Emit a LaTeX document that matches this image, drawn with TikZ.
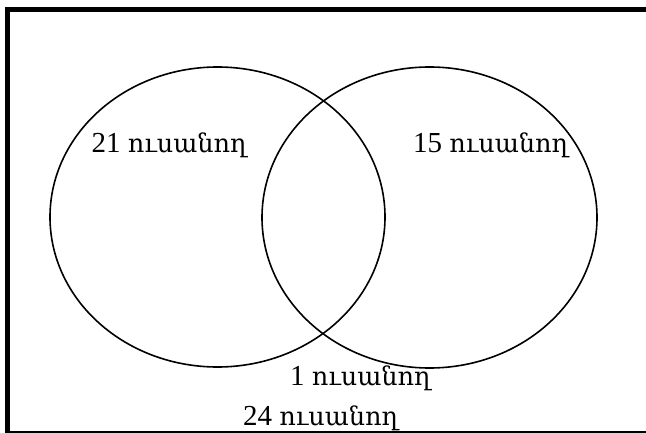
\documentclass[tikz,border=0pt]{standalone}
\usepackage{fontspec}
\setmainfont{Liberation Serif}
\newfontfamily\armfont[Scale=0.88]{DejaVu Serif}
\newcommand{\stud}{{\armfont ուսանող}}
\tikzset{
    numtext/.style={anchor=base west,inner sep=0pt,font=\fontsize{29}{30}\selectfont},
    setline/.style={line width=1.6pt}
}
\begin{document}
\begin{tikzpicture}[x=1pt,y=-1pt]
        \useasboundingbox (0,0) rectangle (646,433);
        \draw[line width=5pt] (7.5,433) -- (7.5,9.8) -- (646,9.8);
        \draw[line width=1.6pt] (5,431.8) -- (646,431.8);
        \draw[setline] (217.5,217) ellipse[x radius=167.5,y radius=150];
        \draw[setline] (429.5,217.5) ellipse[x radius=167.5,y radius=150.5];
        \node[numtext] (left) at (91.5,153) {21 \stud};
        \node[numtext] (right) at (413,153) {15 \stud};
        \node[numtext] (both) at (290,385) {1 \stud};
        \node[numtext] (none) at (243,425) {24 \stud};
    \end{tikzpicture}
\end{document}
